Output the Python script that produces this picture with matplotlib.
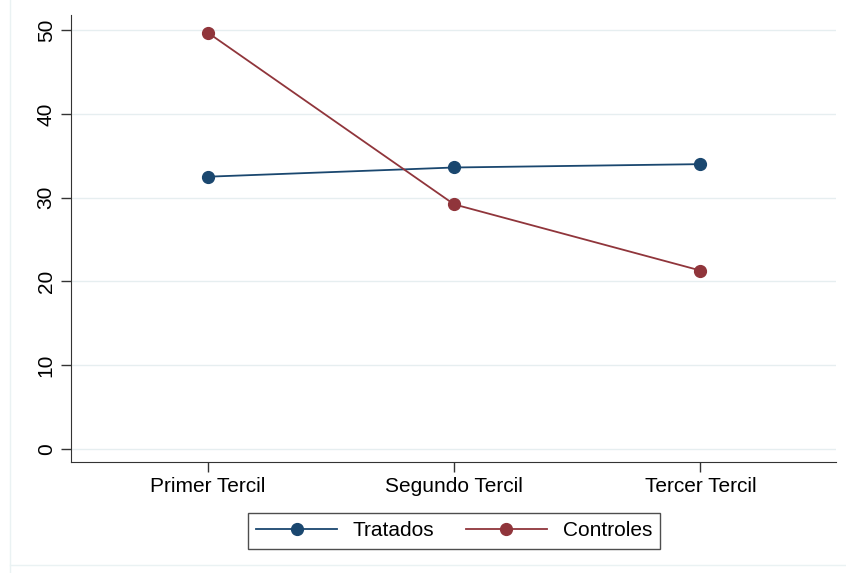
import matplotlib
matplotlib.use('Agg')
import matplotlib.pyplot as plt

# Datos
categorias = ['Primer Tercil', 'Segundo Tercil', 'Tercer Tercil']
tratados = [32.5, 33.6, 34.0]
controles = [49.7, 29.2, 21.3]
yticks = [0, 10, 20, 30, 40, 50]

plt.rcParams['font.family'] = ['Liberation Sans', 'DejaVu Sans']

fig = plt.figure(figsize=(8.46, 5.73), dpi=100)
ax = fig.add_axes([71/846, 1 - 462/573, (836 - 71)/846, (462 - 15)/573])

x = [1, 2, 3]
ax.plot(x, tratados, color='#1a476f', marker='o', markersize=8.5, lw=1.3, label='Tratados', zorder=3)
ax.plot(x, controles, color='#90353b', marker='o', markersize=8.5, lw=1.3, label='Controles', zorder=3)

ax.set_xlim(0.445, 3.55)
ax.set_ylim(-1.55, 51.8)
ax.set_xticks(x)
ax.set_xticklabels(categorias, fontsize=15)
ax.set_yticks(yticks)
ax.set_yticklabels(yticks, fontsize=15, rotation=90, va='center')
ax.tick_params(direction='out', length=7, width=1, color='#333333', pad=4)
ax.grid(axis='y', color='#e6eef0', lw=1)
ax.set_axisbelow(True)
for s in ['top', 'right']:
    ax.spines[s].set_visible(False)
for s in ['left', 'bottom']:
    ax.spines[s].set_color('#333333')

leg = fig.legend(loc='center', bbox_to_anchor=(454/846, 1 - 531/573), ncol=2, fontsize=15,
                 frameon=True, fancybox=False, edgecolor='#222222', handlelength=3.9,
                 columnspacing=1.5, handletextpad=0.75, borderpad=0.4)
leg.get_frame().set_linewidth(1)

# borde tenue de la region del grafico
fig.add_artist(plt.Line2D([10/846, 10/846], [0, 1], color='#eaf2f3', lw=1))
fig.add_artist(plt.Line2D([10/846, 1], [1 - 565/573, 1 - 565/573], color='#eaf2f3', lw=1))

fig.savefig('out.png', dpi=100)
